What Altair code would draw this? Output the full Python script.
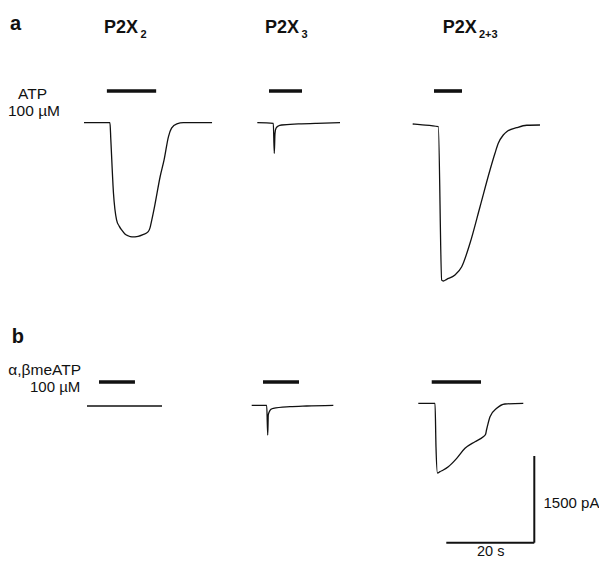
import altair as alt
import pandas as pd

# ---------------- recorded currents (time since sweep start in s, current in pA) -------------
# a: ATP 100 uM
a1_t = [0, 5.9, 6.1, 6.7, 7.4, 8.0, 8.6, 9.3, 10.1, 10.9, 12.3, 13.4, 14.6, 15.0, 15.4, 16.1,
        17.3, 18.2, 19.2, 19.9, 21.1, 22.6, 29.1]
a1_i = [0, 0, -300, -1220, -1680, -1790, -1860, -1925, -1960, -1975, -1965, -1935, -1885, -1820,
        -1685, -1425, -935, -645, -240, -95, -20, 0, 0]
a2_t = [0, 3.64, 3.86, 4.02, 4.25, 4.77, 5.55, 9.32, 13.5, 18.8]
a2_i = [0, -10, -530, -185, -97, -57, -40, -22, -10, 0]
a3_t = [0, 1.66, 5.82, 6.59, 6.95, 7.73, 9.61, 11.14, 13.02, 15.3, 17.57, 18.7, 19.45, 20.59,
        21.36, 23.64, 25.91, 28.93]
a3_i = [0, -12, -47, -2700, -2716, -2687, -2612, -2469, -2064, -1431, -796, -507, -334, -190,
        -133, -64, -22, -17]
# b: alpha,beta-meATP 100 uM
b1_t = [0, 4, 8, 12, 17.05]
b1_i = [0, 0, 0, 0, 0]
b2_t = [0, 3.41, 3.64, 3.77, 4.0, 4.39, 4.91, 8.7, 12.5, 18.55]
b2_i = [0, 0, -514, -168, -111, -69, -52, -24, -12, 0]
b3_t = [0, 3.8, 4.02, 4.36, 4.93, 5.68, 6.82, 8.73, 10.61, 12.89, 14.77, 15.27, 15.5, 15.68,
        16.3, 17.82, 19.7, 23.86]
b3_i = [0, 0, -751, -1206, -1183, -1154, -1097, -952, -779, -664, -578, -540, -462, -405,
        -232, -87, -12, 0]

# agonist application (start, stop) in s since sweep start
app_a = [(5.2, 16.4), (2.66, 10.16), (4.84, 11.2)]
app_b = [(2.73, 10.9), (2.57, 10.75), (3.05, 14.25)]

# calibration
SCALE_T = 20      # s
SCALE_I = 1500    # pA

# ---------------- layout ----------------
PX_PER_S = 4.4
PA_PER_PX = 17.3
W, H = 591, 551


def t_of(px):
    return (px - 8) / PX_PER_S


def i_of(py):
    return -(py - 8) * PA_PER_PX


traces = [
    ("a1", a1_t, a1_i, (84, 122.7)),
    ("a2", a2_t, a2_i, (257.3, 122.7)),
    ("a3", a3_t, a3_i, (412.7, 124)),
    ("b1", b1_t, b1_i, (87, 406)),
    ("b2", b2_t, b2_i, (251.7, 405.3)),
    ("b3", b3_t, b3_i, (418.3, 403.3)),
]
origin = {n: o for n, _, _, o in traces}
bar_row = {"a": 91, "b": 382}

rows = []
for name, ts, cs, (ox, oy) in traces:
    for k, (t, c) in enumerate(zip(ts, cs)):
        rows.append({"trace": name, "k": k, "t": t_of(ox) + t, "i": i_of(oy) + c})
df_tr = pd.DataFrame(rows)

bars = []
for panel, apps, names in (("a", app_a, ["a1", "a2", "a3"]), ("b", app_b, ["b1", "b2", "b3"])):
    for (s, e), nm in zip(apps, names):
        ox = origin[nm][0]
        bars.append({"t1": t_of(ox) + s, "t2": t_of(ox) + e, "i": i_of(bar_row[panel])})
df_bar = pd.DataFrame(bars)

ct, ci = t_of(534.3), i_of(542.7)
df_scale = pd.DataFrame([
    {"t1": ct - SCALE_T, "t2": ct, "i1": ci, "i2": ci},
    {"t1": ct, "t2": ct, "i1": ci, "i2": ci + SCALE_I},
])

bold_labels = [
    ("a", 10, 30, 20), ("b", 11.7, 343.3, 20),
    ("P2X", 104, 33, 18), ("2", 140.5, 37.5, 11),
    ("P2X", 265, 33, 18), ("3", 301.5, 37.5, 11),
    ("P2X", 442.7, 33, 18), ("2+3", 479, 38.3, 11),
]
plain_labels = [
    ("ATP", 18, 99, 15.5), ("100 µM", 8, 116, 15.5),
    ("α,βmeATP", 8.3, 374.5, 15.5), ("100 µM", 30, 391.5, 15),
    ("1500 pA", 543.5, 507.5, 15), ("20 s", 477, 555.5, 14.5),
]


def lab_df(lst):
    return pd.DataFrame([{"txt": s, "t": t_of(x), "i": i_of(y), "fs": f} for s, x, y, f in lst])


xs = alt.Scale(domain=[0, W / PX_PER_S], nice=False, zero=False)
ys = alt.Scale(domain=[-H * PA_PER_PX, 0], nice=False, zero=False)
INK = "#111111"

lines = alt.Chart(df_tr).mark_line(interpolate="monotone", color=INK, strokeWidth=1.3).encode(
    x=alt.X("t:Q", scale=xs, axis=None),
    y=alt.Y("i:Q", scale=ys, axis=None),
    detail="trace:N",
    order="k:Q",
)

app = alt.Chart(df_bar).mark_rule(color=INK, strokeWidth=3.6).encode(
    x=alt.X("t1:Q", scale=xs, axis=None), x2="t2:Q",
    y=alt.Y("i:Q", scale=ys, axis=None),
)

cal = alt.Chart(df_scale).mark_rule(color=INK, strokeWidth=2).encode(
    x=alt.X("t1:Q", scale=xs, axis=None), x2="t2:Q",
    y=alt.Y("i1:Q", scale=ys, axis=None), y2="i2:Q",
)


def text_layer(df, weight):
    return alt.Chart(df).mark_text(
        align="left", baseline="alphabetic", font="Liberation Sans", fontWeight=weight, color=INK
    ).encode(
        x=alt.X("t:Q", scale=xs, axis=None),
        y=alt.Y("i:Q", scale=ys, axis=None),
        text="txt:N",
        size=alt.Size("fs:Q", scale=None, legend=None),
    )


chart = alt.layer(
    lines, app, cal,
    text_layer(lab_df(bold_labels), "bold"),
    text_layer(lab_df(plain_labels), "normal"),
).properties(
    width=W, height=H, padding=0,
    autosize=alt.AutoSizeParams(type="none"),
    background="white",
).configure_view(stroke=None)

chart.save("out.html", embed_options={"renderer": "svg", "actions": False})
